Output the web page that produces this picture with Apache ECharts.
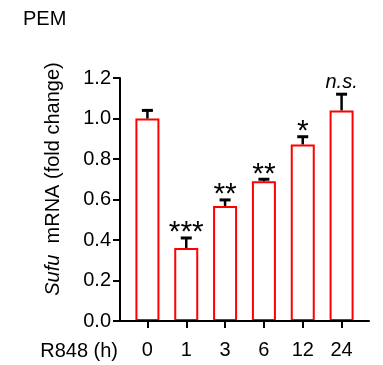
<!DOCTYPE html>
<html>
<head>
<meta charset="utf-8">
<script src="https://cdn.jsdelivr.net/npm/echarts@6/dist/echarts.min.js"></script>
<style>
html,body{margin:0;padding:0;background:#fff;}
#chart{width:383px;height:365px;}
</style>
</head>
<body>
<div id="chart"></div>
<script>
var categories = ['0', '1', '3', '6', '12', '24'];
var means = [1.00, 0.36, 0.568, 0.69, 0.872, 1.04];
var errors = [0.04, 0.05, 0.03, 0.01, 0.038, 0.08];
var sigLabels = ['', '***', '**', '**', '*', 'n.s.'];
var yTicks = [0, 0.2, 0.4, 0.6, 0.8, 1.0, 1.2];
var titleText = 'PEM';
var xName = 'R848 (h)';
var yNameItalic = 'Sufu';
var yNameRest = 'mRNA (fold change)';

var FONT = 'Arial, "Liberation Sans", sans-serif';
var chart = echarts.init(document.getElementById('chart'), null, {renderer: 'canvas'});

var errData = categories.map(function (c, i) { return [i, means[i], errors[i]]; });

var option = {
  backgroundColor: '#fff',
  animation: false,
  title: {
    text: titleText, left: 18, top: 4,
    textStyle: {fontFamily: FONT, fontSize: 20, fontWeight: 'normal', color: '#000'}
  },
  grid: [
    {left: 120, right: 14, top: 78, bottom: 44},
    {left: 128, right: 22, top: 78, bottom: 44}
  ],
  xAxis: [
    {gridIndex: 0, type: 'value', min: 0, max: 1, z: 5,
     axisLine: {show: true, onZero: false, lineStyle: {color: '#000', width: 2}},
     axisTick: {show: false}, axisLabel: {show: false}, splitLine: {show: false}},
    {gridIndex: 1, type: 'category', data: categories, z: 5,
     axisLine: {show: false},
     axisTick: {show: true, alignWithLabel: true, length: 7, lineStyle: {color: '#000', width: 2}},
     axisLabel: {fontFamily: FONT, fontSize: 20, color: '#000', margin: 19},
     splitLine: {show: false}}
  ],
  yAxis: [
    {gridIndex: 0, type: 'value', min: 0, max: 1.2, interval: 0.2, z: 5,
     axisLine: {show: true, lineStyle: {color: '#000', width: 2}},
     axisTick: {show: true, length: 7, lineStyle: {color: '#000', width: 2}},
     axisLabel: {fontFamily: FONT, fontSize: 20, color: '#000', margin: 9,
                 formatter: function (v) { return v.toFixed(1); }},
     splitLine: {show: false}},
    {gridIndex: 1, type: 'value', min: 0, max: 1.2, interval: 0.2, show: false}
  ],
  graphic: [
    {type: 'text', x: 118, y: 351,
     style: {text: xName, fontFamily: FONT, fontSize: 20, fill: '#000', align: 'right', verticalAlign: 'middle'}},
    {type: 'text', x: 53, y: 179, rotation: Math.PI / 2,
     style: {text: '{i|' + yNameItalic + '}  ' + yNameRest, fontFamily: FONT, fontSize: 20, fill: '#000',
             align: 'center', verticalAlign: 'middle',
             rich: {i: {fontStyle: 'italic', fontFamily: FONT, fontSize: 20, fill: '#000'}}}}
  ],
  series: [
    {type: 'bar', xAxisIndex: 1, yAxisIndex: 1, data: means, barWidth: 24,
     itemStyle: {color: '#fff', borderColor: '#ff0000', borderWidth: 2}, z: 2},
    {type: 'custom', xAxisIndex: 1, yAxisIndex: 1, data: errData, z: 3,
     renderItem: function (params, api) {
       var i = api.value(0), m = api.value(1), e = api.value(2);
       var lab = sigLabels[params.dataIndex];
       var p0 = api.coord([i, m]);
       var p1 = api.coord([i, m + e]);
       var capHalf = 5.5;
       var children = [
         {type: 'line', shape: {x1: p0[0], y1: p0[1], x2: p1[0], y2: p1[1]},
          style: {stroke: '#000', lineWidth: 2.5}},
         {type: 'line', shape: {x1: p1[0] - capHalf, y1: p1[1], x2: p1[0] + capHalf, y2: p1[1]},
          style: {stroke: '#000', lineWidth: 3}}
       ];
       if (lab) {
         var isNS = lab === 'n.s.';
         children.push({type: 'text', x: p1[0], y: isNS ? p1[1] - 2 : p1[1] - 5,
           style: {text: lab, fontFamily: FONT, fontSize: isNS ? 20 : 30,
                   fontStyle: isNS ? 'italic' : 'normal', fill: '#000',
                   align: 'center', verticalAlign: isNS ? 'bottom' : 'middle'}});
       }
       return {type: 'group', children: children};
     }}
  ]
};
chart.setOption(option);
</script>
</body>
</html>
